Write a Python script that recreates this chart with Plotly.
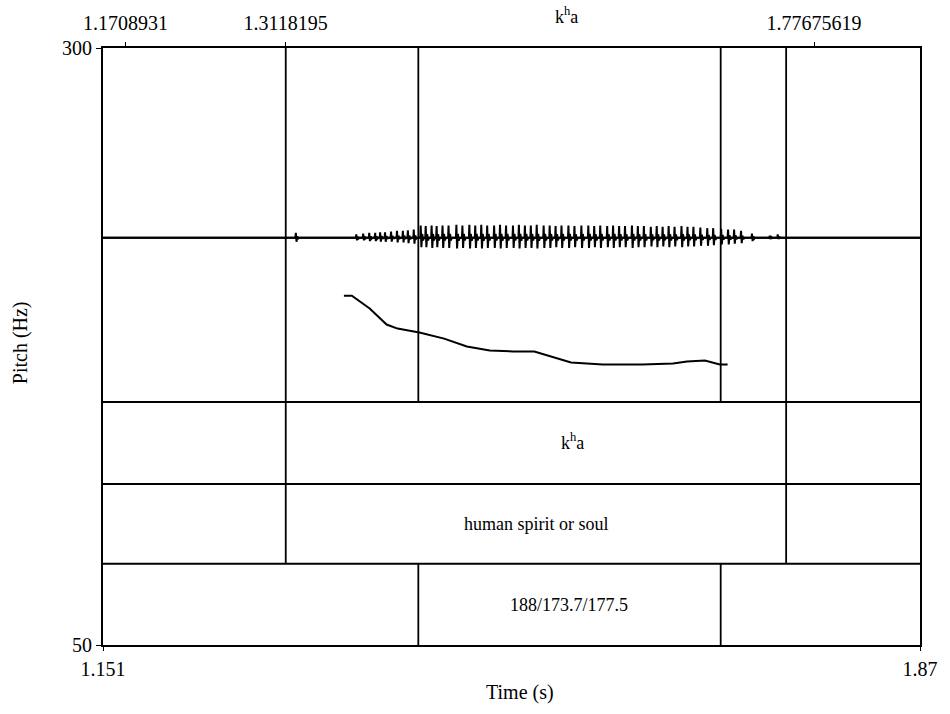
import plotly.graph_objects as go

# ---- axis limits and labels ----
time_range = [1.151, 1.87]
pitch_range = [50, 300]
bottom_ticks = [1.151, 1.87]
bottom_ticktext = ["1.151", "1.87"]
top_ticks = [1.1708931, 1.3118195, 1.77675619]
top_ticktext = ["1.1708931", "1.3118195", "1.77675619"]

# ---- pitch contour (s, Hz) ----
pitch_t = [1.3630, 1.3700, 1.3857, 1.4006, 1.4102, 1.4294, 1.4512, 1.4712,
           1.4913, 1.5123, 1.5306, 1.5472, 1.5629, 1.5908, 1.6257, 1.6527,
           1.6650, 1.6807, 1.6938, 1.7007]
pitch_hz = [196.3, 196.3, 190.9, 184.2, 182.5, 180.9, 178.3, 175.0,
            173.3, 172.9, 172.9, 170.4, 168.3, 167.5, 167.5, 167.9,
            168.7, 169.1, 167.5, 167.5]

# ---- waveform: glottal pulse times (s) with upper / lower peak amplitude ----
pulse_t = [1.3203, 1.3735, 1.3796, 1.3849, 1.3901, 1.3945, 1.3988, 1.4041,
           1.4093, 1.4145, 1.4189, 1.4241, 1.4302, 1.4346, 1.4398, 1.4442,
           1.4494, 1.4547, 1.4616, 1.4669, 1.4730, 1.4782, 1.4835, 1.4887,
           1.4948, 1.5000, 1.5053, 1.5114, 1.5166, 1.5219, 1.5271, 1.5323,
           1.5384, 1.5437, 1.5489, 1.5541, 1.5602, 1.5655, 1.5716, 1.5777,
           1.5829, 1.5882, 1.5943, 1.5995, 1.6048, 1.6100, 1.6161, 1.6213,
           1.6266, 1.6327, 1.6379, 1.6431, 1.6484, 1.6536, 1.6597, 1.6650,
           1.6702, 1.6763, 1.6824, 1.6876, 1.6946, 1.7007, 1.7060, 1.7121,
           1.7217, 1.7374, 1.7444]
pulse_up = [0.35, 0.25, 0.30, 0.35, 0.35, 0.40, 0.40, 0.45,
            0.50, 0.50, 0.55, 0.60, 0.90, 0.85, 0.90, 0.85,
            0.90, 0.90, 0.95, 0.90, 0.95, 0.90, 0.95, 0.90,
            0.90, 0.95, 0.90, 0.90, 0.95, 0.90, 0.90, 0.95,
            0.90, 0.90, 0.85, 0.90, 0.90, 0.85, 0.90, 0.90,
            0.85, 0.90, 0.85, 0.90, 0.85, 0.85, 0.90, 0.85,
            0.85, 0.80, 0.85, 0.80, 0.85, 0.80, 0.85, 0.80,
            0.80, 0.75, 0.70, 0.70, 0.65, 0.60, 0.60, 0.50,
            0.30, 0.15, 0.25]
pulse_down = [0.30, 0.20, 0.20, 0.25, 0.25, 0.30, 0.30, 0.30,
              0.35, 0.35, 0.40, 0.45, 0.70, 0.70, 0.75, 0.70,
              0.75, 0.75, 0.80, 0.75, 0.80, 0.75, 0.80, 0.75,
              0.75, 0.80, 0.75, 0.75, 0.80, 0.75, 0.75, 0.80,
              0.75, 0.75, 0.70, 0.75, 0.75, 0.70, 0.75, 0.75,
              0.70, 0.75, 0.70, 0.75, 0.70, 0.70, 0.75, 0.70,
              0.70, 0.65, 0.70, 0.65, 0.70, 0.65, 0.70, 0.65,
              0.65, 0.60, 0.60, 0.55, 0.50, 0.50, 0.45, 0.40,
              0.25, 0.10, 0.10]

# ---- text grid ----
boundary_t = [1.3118195, 1.4285, 1.6946, 1.7522]
tier_texts = ["k<sup>h</sup>a", "human spirit or soul", "188/173.7/177.5"]
tier_text_t = [1.5646, 1.5323, 1.5611]

FONT = "Liberation Serif, Times New Roman, serif"
INK = "black"

# waveform drawn as one polyline: each pulse rises, dips, then rings down
wave_x, wave_y = [time_range[0]], [0.0]
for t, up, dn in zip(pulse_t, pulse_up, pulse_down):
    wave_x += [t, t + 0.0004, t + 0.0010, t + 0.0017, t + 0.0025, t + 0.0033]
    wave_y += [0.0, up, -dn, 0.30 * up, -0.28 * dn, 0.0]
wave_x.append(time_range[1])
wave_y.append(0.0)

fig = go.Figure()
fig.add_trace(go.Scatter(x=wave_x, y=wave_y, mode="lines", xaxis="x", yaxis="y3",
                         line=dict(color=INK, width=2), hoverinfo="skip",
                         showlegend=False))
fig.add_trace(go.Scatter(x=pitch_t, y=pitch_hz, mode="lines", xaxis="x", yaxis="y",
                         line=dict(color=INK, width=2), showlegend=False))
# empty trace so the top time axis is drawn
fig.add_trace(go.Scatter(x=[], y=[], xaxis="x2", yaxis="y", showlegend=False))

# plot-area geometry in paper units (bottom = 0, top = 1)
wave_base = 0.6823
band_lines = [0.4072, 0.2697, 0.1360]
tier_text_y = [0.3411, 0.2023, 0.0669]

shapes = []
# waveform zero line across the whole width
shapes.append(dict(type="line", xref="paper", yref="paper", x0=0, x1=1,
                   y0=wave_base, y1=wave_base, line=dict(color=INK, width=2)))
for yb in band_lines:
    shapes.append(dict(type="line", xref="paper", yref="paper", x0=0, x1=1,
                       y0=yb, y1=yb, line=dict(color=INK, width=2)))
# interval boundaries: outer ones span top to the word tier, inner ones
# span the signal panel and the value tier
spans = {
    boundary_t[0]: [(band_lines[2], 1)],
    boundary_t[1]: [(band_lines[0], 1), (0, band_lines[2])],
    boundary_t[2]: [(band_lines[0], 1), (0, band_lines[2])],
    boundary_t[3]: [(band_lines[2], 1)],
}
for t, segs in spans.items():
    for y0, y1 in segs:
        shapes.append(dict(type="line", xref="x", yref="paper", x0=t, x1=t,
                           y0=y0, y1=y1, line=dict(color=INK, width=1.8)))

label_font = dict(family=FONT, size=18, color=INK)
annotations = []
for txt, t, yy in zip(tier_texts, tier_text_t, tier_text_y):
    annotations.append(dict(x=t, y=yy, xref="x", yref="paper", text=txt,
                            xanchor="center", yanchor="middle",
                            showarrow=False, font=label_font))
annotations += [
    dict(x=0.567, y=1.054, xref="paper", yref="paper", text="k<sup>h</sup>a",
         xanchor="center", yanchor="middle", showarrow=False, font=label_font),
    dict(x=0.511, y=-0.0803, xref="paper", yref="paper", text="Time (s)",
         xanchor="center", yanchor="middle", showarrow=False,
         font=dict(family=FONT, size=20, color=INK)),
    dict(x=-0.1007, y=0.5067, xref="paper", yref="paper", text="Pitch (Hz)",
         xanchor="center", yanchor="middle", textangle=-90, showarrow=False,
         font=dict(family=FONT, size=20, color=INK)),
]

tick_font = dict(family=FONT, size=20, color=INK)
fig.update_layout(
    width=950, height=714,
    margin=dict(l=103, r=23, t=47, b=69),
    paper_bgcolor="white", plot_bgcolor="white",
    showlegend=False,
    shapes=shapes, annotations=annotations,
    xaxis=dict(range=time_range, tickvals=bottom_ticks, ticktext=bottom_ticktext,
               ticks="outside", ticklen=4, tickcolor=INK, showline=True,
               linecolor=INK, linewidth=2, showgrid=False, zeroline=False,
               tickfont=tick_font, ticklabelstandoff=1),
    xaxis2=dict(range=time_range, overlaying="x", side="top", anchor="y",
                tickvals=top_ticks, ticktext=top_ticktext, ticks="outside",
                ticklen=4, tickcolor=INK, showline=True, linecolor=INK,
                linewidth=2, showgrid=False, zeroline=False, tickfont=tick_font,
                ticklabelstandoff=4),
    yaxis=dict(range=pitch_range, tickvals=[50, 300], ticktext=["50", "300"],
               ticks="outside", ticklen=5, tickcolor=INK, showline=True,
               linecolor=INK, linewidth=2, mirror=True, showgrid=False,
               zeroline=False, tickfont=tick_font, ticklabelstandoff=0),
    yaxis3=dict(domain=[wave_base - 0.05, wave_base + 0.05], range=[-2.2, 2.2],
                anchor="x", visible=False, showgrid=False, zeroline=False),
)

fig.write_html("out.html")
